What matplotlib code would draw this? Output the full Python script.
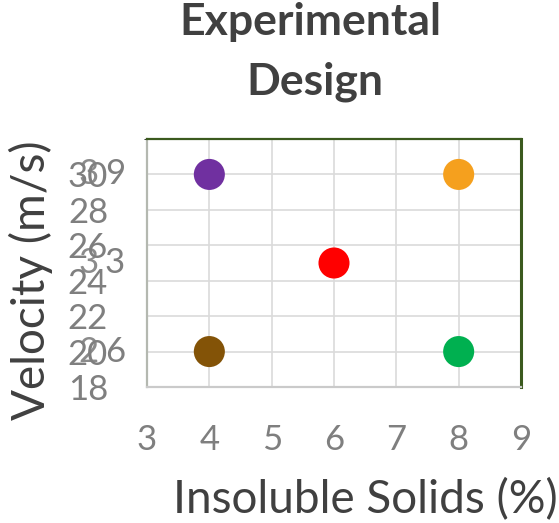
import matplotlib
matplotlib.use("Agg")
import matplotlib.pyplot as plt
import matplotlib.transforms as mtransforms

plt.rcParams['font.family'] = ['Lato', 'DejaVu Sans']

# design points
solids = [4, 8, 6, 4, 8]
velocity = [30, 30, 25, 20, 20]
colors = ['#7030A0', '#F5A01E', '#FF0000', '#835307', '#00B050']

x_ticks = [3, 4, 5, 6, 7, 8, 9]
y_ticks = [18, 20, 22, 24, 26, 28, 30]

# stray labels overlapping the y axis labels
side_y = [30, 25, 20]
side_left = ['3', '3', '2']
side_right = ['9', '3', '6']

title_lines = ['Experimental', 'Design']
x_label = 'Insoluble Solids (%)'
y_label = 'Velocity (m/s)'

W, H = 559, 523
fig = plt.figure(figsize=(W / 100, H / 100), dpi=100)
ax = fig.add_axes([147 / W, 1 - 387 / H, (521 - 147) / W, (387 - 139) / H])

ax.scatter(solids, velocity, s=500, c=colors, edgecolors='none', zorder=3)

ax.set_xlim(3, 9)
ax.set_ylim(18, 32)
ax.set_xticks(x_ticks)
ax.set_yticks(y_ticks)
ax.set_yticks([32], minor=True)
ax.grid(True, which='both', color='#dadada', lw=1.2, zorder=0)
ax.tick_params(length=0, labelsize=25, labelcolor='#7f7f7f')
ax.tick_params(axis='x', pad=27)
ax.tick_params(axis='y', pad=28)

ax.spines['top'].set_color('#3b5a1e')
ax.spines['right'].set_color('#3b5a1e')
ax.spines['top'].set_linewidth(1.6)
ax.spines['right'].set_linewidth(2.2)
ax.spines['left'].set_color('#b4b8b0')
ax.spines['bottom'].set_color('#cacaca')
ax.spines['left'].set_linewidth(1.6)
ax.spines['bottom'].set_linewidth(1.6)

tr = mtransforms.blended_transform_factory(fig.transFigure, ax.transData)
for yv, a, b in zip(side_y, side_left, side_right):
    ax.text(78 / W, yv, a, transform=tr, fontsize=25, color='#7f7f7f',
            ha='left', va='center', alpha=0.9)
    ax.text(105 / W, yv, b, transform=tr, fontsize=25, color='#7f7f7f',
            ha='left', va='center')

fig.text(310 / W, 1 - 35 / H, title_lines[0], fontsize=32, fontweight='bold',
         color='#404040', ha='center', va='baseline')
fig.text(315 / W, 1 - 95 / H, title_lines[1], fontsize=32, fontweight='bold',
         color='#404040', ha='center', va='baseline')

fig.text(173 / W, 1 - 513 / H, x_label, fontsize=33, color='#404040',
         ha='left', va='baseline')
fig.text(31 / W, 1 - 280 / H, y_label, fontsize=33, color='#404040',
         ha='center', va='center', rotation=90)

fig.savefig('out.png', dpi=100)
